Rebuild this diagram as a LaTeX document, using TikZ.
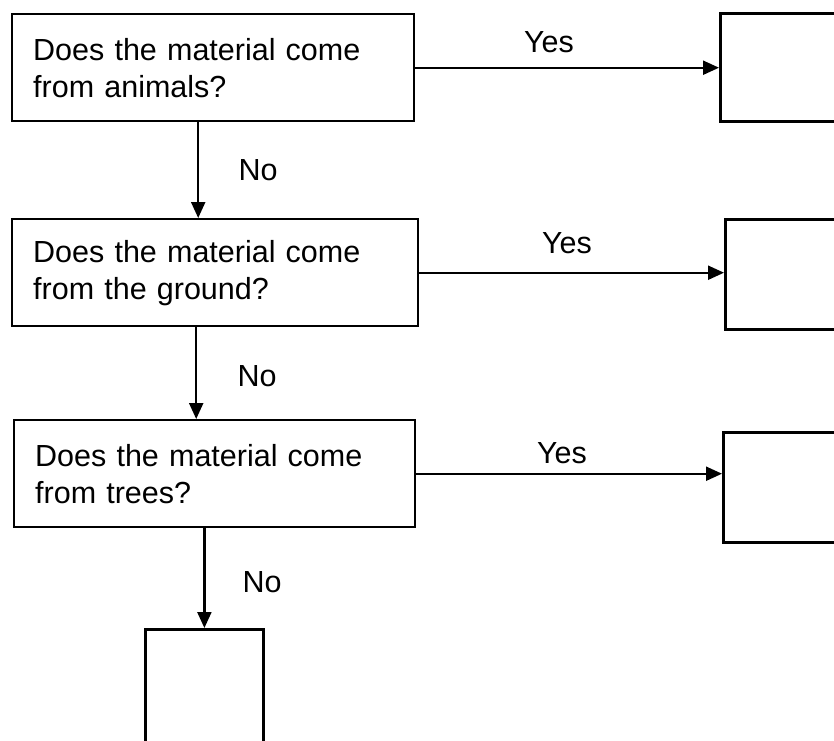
\documentclass[tikz,border=0pt]{standalone}
\usepackage{fontspec}
\setmainfont{Liberation Sans}
\usetikzlibrary{arrows.meta}
\begin{document}
\begin{tikzpicture}[x=1pt,y=-1pt,
  qbox/.style={draw, line width=2.4pt, anchor=north west, inner xsep=21pt, inner ysep=0pt,
    minimum height=107pt, align=left, font=\fontsize{30.5}{37}\selectfont},
  abox/.style={draw, line width=2.8pt, anchor=north west, inner sep=0pt},
  arr/.style={line width=2.2pt, -{Triangle[length=16pt,width=14pt]}},
  lbl/.style={font=\fontsize{30.5}{36}\selectfont, inner sep=0pt}]
\useasboundingbox (0,0) rectangle (834,740);
\clip (0,0) rectangle (834,740);
\node[qbox, text width=360pt] (q1) at (11,13) {Does the material come\\from animals?};
\node[qbox, text width=364pt] (q2) at (11,218) {Does the material come\\from the ground?};
\node[qbox, text width=359pt] (q3) at (13,419) {Does the material come\\from trees?};
\node[abox, minimum width=140pt, minimum height=108pt] (r1) at (719,12) {};
\node[abox, minimum width=140pt, minimum height=110pt] (r2) at (724,218) {};
\node[abox, minimum width=140pt, minimum height=110pt] (r3) at (722,431) {};
\node[abox, minimum width=118pt, minimum height=130pt] (b) at (144,628) {};
\draw[arr] (q1.east) -- (q1.east -| r1.west);
\draw[arr] (q2.east) -- (q2.east -| r2.west);
\draw[arr] (q3.east) -- (q3.east -| r3.west);
\draw[arr] ([xshift=-15pt]q1.south) -- ([xshift=-15pt]q1.south |- q2.north);
\draw[arr] ([xshift=-19pt]q2.south) -- ([xshift=-19pt]q2.south |- q3.north);
\draw[arr] (b.north |- q3.south) -- (b.north);
\node[lbl] (y1) at (549,42) {Yes};
\node[lbl] (y2) at (567,243) {Yes};
\node[lbl] (y3) at (562,453) {Yes};
\node[lbl] (n1) at (258,170) {No};
\node[lbl] (n2) at (257,376) {No};
\node[lbl] (n3) at (262,582) {No};
\end{tikzpicture}
\end{document}
